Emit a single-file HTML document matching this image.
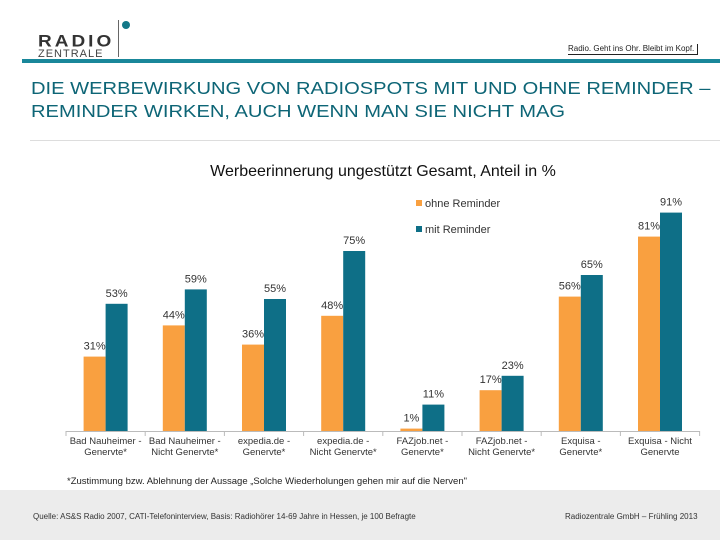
<!DOCTYPE html>
<html><head><meta charset="utf-8"><style>
body{margin:0;width:720px;height:540px;position:relative;background:#fff;font-family:"Liberation Sans",sans-serif;overflow:hidden}
.a{position:absolute}
</style></head><body>
<div class="a" style="left:38px;top:33px;width:100px;height:26px">
<div class="a" style="left:0;top:0;font-weight:bold;font-size:19px;letter-spacing:3px;color:#333;transform:scaleY(0.85);transform-origin:top left">RADIO</div>
<div class="a" style="left:0;top:15px;font-size:11px;letter-spacing:1px;color:#444">ZENTRALE</div>
</div>
<div class="a" style="left:118px;top:20px;width:1px;height:37px;background:#666"></div>
<div class="a" style="left:122px;top:21px;width:8px;height:8px;border-radius:50%;background:#137888"></div>
<div class="a" style="left:568px;top:44px;font-size:8px;color:#222;border-bottom:1px solid #222;border-right:1px solid #222;padding-right:3px;line-height:10px">Radio. Geht ins Ohr. Bleibt im Kopf.</div>
<div class="a" style="left:22px;top:59px;width:698px;height:4px;background:#19879a"></div>
<div class="a" style="left:31px;top:77px;font-size:17.5px;color:#0d6576;line-height:23px;white-space:nowrap;transform:scaleX(1.15);transform-origin:left top">DIE WERBEWIRKUNG VON RADIOSPOTS MIT UND OHNE REMINDER –<br>REMINDER WIRKEN, AUCH WENN MAN SIE NICHT MAG</div>
<div class="a" style="left:30px;top:140px;width:690px;height:1px;background:#ddd"></div>
<div class="a" style="left:0;width:766px;text-align:center;top:163px;font-size:16px;color:#111">Werbeerinnerung ungestützt Gesamt, Anteil in %</div>
<svg class="a" style="left:0;top:0" width="720" height="540" id="c"></svg>
<div class="a" style="left:67px;top:476px;font-size:9.5px;color:#222">*Zustimmung bzw. Ablehnung der Aussage „Solche Wiederholungen gehen mir auf die Nerven"</div>
<div class="a" style="left:0;top:490px;width:720px;height:50px;background:#ececec"></div>
<div class="a" style="left:33px;top:512px;font-size:8px;color:#333">Quelle: AS&amp;S Radio 2007, CATI-Telefoninterview, Basis: Radiohörer 14-69 Jahre in Hessen, je 100 Befragte</div>
<div class="a" style="left:565px;top:512px;font-size:8px;color:#333">Radiozentrale GmbH – Frühling 2013</div>
<script>
const categories=[["Bad Nauheimer -","Generyte*"],["Bad Nauheimer -","Nicht Generyte*"],["expedia.de -","Generyte*"],["expedia.de -","Nicht Generyte*"],["FAZjob.net -","Generyte*"],["FAZjob.net -","Nicht Generyte*"],["Exquisa -","Generyte*"],["Exquisa - Nicht","Generyte"]];
const ohne=[31,44,36,48,1,17,56,81];
const mit=[53,59,55,75,11,23,65,91];
const series=["ohne Reminder","mit Reminder"];
const colors=["#f9a040","#0e6f87"];
const svg=document.getElementById('c');const NS='http://www.w3.org/2000/svg';
const base=431,pp=2.4,x0=66,gw=79.2,bw=22;
const y=v=>base-v*pp, xc=i=>x0+gw*(i+0.5);
function el(t,a){const e=document.createElementNS(NS,t);for(const k in a)e.setAttribute(k,a[k]);svg.appendChild(e);return e;}
const ax=el('line',{x1:x0,x2:700,y1:base+0.5,y2:base+0.5,stroke:'#bbb'});


for(let i=0;i<=categories.length;i++){const t=el('line',{x1:x0+gw*i,x2:x0+gw*i,y1:base,y2:base+5,stroke:'#bbb'});

}
[ohne,mit].forEach((s,si)=>s.forEach((v,i)=>{
const bx=xc(i)-bw+si*bw;
const r=el('rect',{x:bx,y:y(v),width:bw,height:v*pp,fill:colors[si]});


const t=el('text',{x:bx+bw/2,y:y(v)-7,'text-anchor':'middle','font-size':11,fill:'#333'});t.textContent=v+'%';


}));
categories.forEach((c,i)=>c.forEach((l,j)=>{const t=el('text',{x:xc(i),y:base+13+j*11,'text-anchor':'middle','font-size':9.5,fill:'#333'});t.textContent=l.replace('yte','vte');

}));
series.forEach((s,i)=>{const r=el('rect',{x:416,y:200+i*26,width:6,height:6,fill:colors[i]});


const t=el('text',{x:425,y:207+i*26,'font-size':11,fill:'#333'});t.textContent=s;

});
</script>
</body></html>
